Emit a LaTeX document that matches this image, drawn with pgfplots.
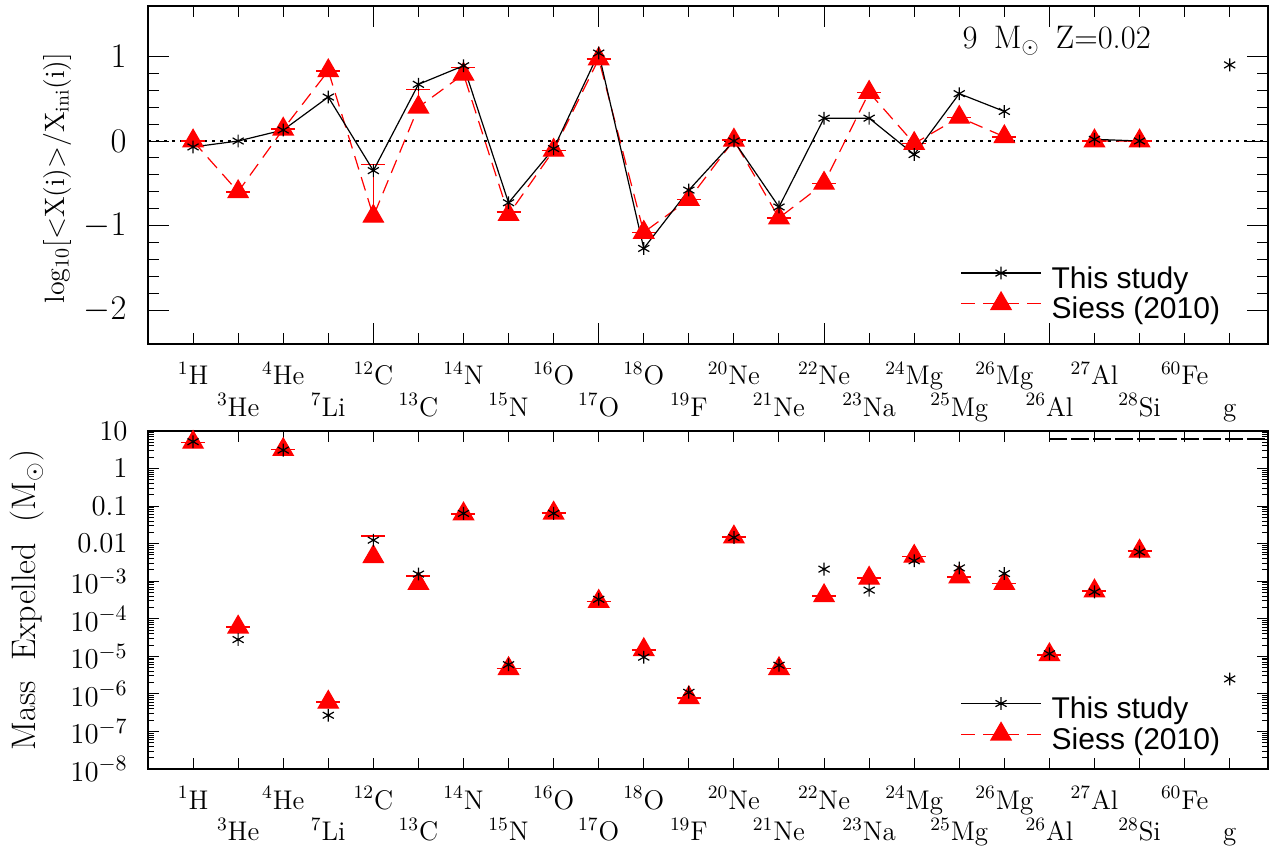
\documentclass[border=0pt]{standalone}
\usepackage{pgfplots}
\pgfplotsset{compat=1.18}
\usepackage{pgfplotstable}
\usepackage{fontspec}
\newfontfamily\legfont{Liberation Sans}

\newcommand\iso[2]{\textsuperscript{#1}#2}
\newcommand\lo[1]{\raisebox{-15.75pt}{#1}}

\pgfplotstableread{
x  ts     si     e
1  -0.07  0.00   0
2   0.00 -0.60   0
3   0.13  0.14   0
4   0.52  0.83   0
5  -0.35 -0.89   0.61
6   0.67  0.40   0.21
7   0.89  0.79   0.08
8  -0.73 -0.87   0.03
9  -0.09 -0.11   0
10  1.04  0.97   0
11 -1.27 -1.08   0
12 -0.58 -0.69   0
13  0.00  0.01   0
14 -0.78 -0.91   0
15  0.27 -0.50   0
16  0.27  0.575  0
17 -0.16 -0.03   0
18  0.56  0.28   0
19  0.35  0.05   0
20  nan   nan    0
21  0.02  0.00   0
22  0.00  0.00   0
23  nan   nan    0
24  0.90  nan    0
}\topdata

\pgfplotstableread{
x  ts       si       e
1  5.2      5.0      0
2  2.8e-5   6.0e-5   0
3  3.1      3.2      0
4  2.7e-7   6.0e-7   0
5  0.0124   4.5e-3   0.0113
6  1.55e-3  8.7e-4   5.3e-4
7  0.064    0.062    0
8  6.0e-6   4.7e-6   0
9  0.064    0.065    0
10 3.3e-4   2.9e-4   0
11 9.5e-6   1.5e-5   0
12 1.1e-6   7.9e-7   0
13 0.0146   0.015    0
14 5.8e-6   4.7e-6   0
15 2.1e-3   4.1e-4   0
16 5.8e-4   1.2e-3   0
17 3.5e-3   4.6e-3   0
18 2.26e-3  1.3e-3   0
19 1.6e-3   8.7e-4   0
20 1.17e-5  1.1e-5   0
21 5.2e-4   5.5e-4   0
22 6.0e-3   6.3e-3   0
23 nan      nan      0
24 2.5e-6   nan      0
}\botdata

\pgfplotstableread{
x    y
20   6.1
24.85 6.1
}\gline

\pgfplotstableread{
x    y
0    0
24.85 0
}\zeroline

\pgfplotsset{
  common/.style={
    scale only axis, width=560pt,
    xmin=0, xmax=24.85,
    axis line style={line width=0.9pt},
    every tick/.style={black, line width=0.5pt},
    tick align=inside, tick pos=both,
    unbounded coords=jump,
    reverse legend,
    legend cell align=left,
    legend image code/.code={\draw[##1, sharp plot, mark repeat=2, mark phase=2] plot coordinates {(0pt,3pt) (20pt,3pt) (40pt,3pt)};},
  },
  tsstyle/.style={black, line width=0.6pt, mark=asterisk, mark size=3.2pt, mark options={solid, line width=0.6pt}},
  sistyle/.style={red, line width=0.6pt, dash pattern=on 7pt off 4pt, mark=triangle*, mark size=5.8pt,
     mark options={solid, fill=red, draw=red},
     error bars/y dir=plus, error bars/y explicit,
     error bars/error bar style={solid, red, line width=0.6pt},
     error bars/error mark options={rotate=90, red, mark size=6pt, line width=0.8pt}},
  legsty/.style={legend style={at={(axis description cs:0.7254,#1)}, anchor=south west, draw=none, fill=none,
     inner sep=0pt, outer sep=0pt, row sep=0pt, column sep=5pt,
     nodes={inner sep=0pt, text height=11pt, text depth=2pt, font=\legfont\fontsize{15}{15}\selectfont}}},
}

\begin{document}
\begin{tikzpicture}
\path[use as bounding box] (0,0) rectangle (634.5pt,425.5pt);

% ---------------- top panel ----------------
\begin{axis}[common,
  at={(74pt,253.5pt)}, anchor=south west,
  height=169.15pt,
  ymin=-2.4, ymax=1.6,
  xtick={5,10,15,20}, xticklabels={},
  minor xtick={1,...,24},
  extra x ticks={1,...,24},
  extra x tick labels={\iso{1}{H}, \lo{\iso{3}{He}}, \iso{4}{He}, \lo{\iso{7}{Li}}, \iso{12}{C}, \lo{\iso{13}{C}}, \iso{14}{N}, \lo{\iso{15}{N}}, \iso{16}{O}, \lo{\iso{17}{O}}, \iso{18}{O}, \lo{\iso{19}{F}}, \iso{20}{Ne}, \lo{\iso{21}{Ne}}, \iso{22}{Ne}, \lo{\iso{23}{Na}}, \iso{24}{Mg}, \lo{\iso{25}{Mg}}, \iso{26}{Mg}, \lo{\iso{26}{Al}}, \iso{27}{Al}, \lo{\iso{28}{Si}}, \iso{60}{Fe}, \lo{g}},
  extra x tick style={major tick length=0pt,
     xticklabel style={anchor=base, yshift=-20.3pt, inner sep=0pt, font=\fontsize{13.5}{16}\selectfont}},
  ytick={-2,-1,0,1}, minor y tick num=4,
  yticklabels={$-2$,$-1$,$0$,$1$},
  yticklabel style={font=\fontsize{16}{18}\selectfont, anchor=east, inner sep=0pt, xshift=-10.5pt},
  major tick length=10.5pt, minor tick length=5.5pt,
  ylabel={log$_{10}$[$<$X(i)$>$/X$_{\rm ini}$(i)]},
  ylabel style={at={(axis description cs:-0.081,0.49)}, anchor=center, font=\fontsize{14}{16}\selectfont},
  legsty=0.063,
]
\addplot[forget plot, black, line width=0.6pt, dash pattern=on 1.5pt off 2.5pt] table[x=x,y=y] {\zeroline};
\addplot[sistyle] table[x=x, y=si, y error=e] {\topdata};
\addlegendentry{Siess (2010)}
\addplot[tsstyle] table[x=x, y=ts] {\topdata};
\addlegendentry{This study}
\node[anchor=base west, inner sep=0pt, font=\fontsize{16.3}{18}\selectfont] at (rel axis cs:0.727,0.873)
  {9\hspace{0.5em}M$_\odot$\hspace{0.5em}Z=0.02};
\end{axis}

% ---------------- bottom panel ----------------
\begin{axis}[common,
  at={(74pt,41pt)}, anchor=south west,
  height=169pt,
  ymode=log, ymin=1e-8, ymax=10,
  xtick={1,...,24},
  xticklabels={\iso{1}{H}, \lo{\iso{3}{He}}, \iso{4}{He}, \lo{\iso{7}{Li}}, \iso{12}{C}, \lo{\iso{13}{C}}, \iso{14}{N}, \lo{\iso{15}{N}}, \iso{16}{O}, \lo{\iso{17}{O}}, \iso{18}{O}, \lo{\iso{19}{F}}, \iso{20}{Ne}, \lo{\iso{21}{Ne}}, \iso{22}{Ne}, \lo{\iso{23}{Na}}, \iso{24}{Mg}, \lo{\iso{25}{Mg}}, \iso{26}{Mg}, \lo{\iso{26}{Al}}, \iso{27}{Al}, \lo{\iso{28}{Si}}, \iso{60}{Fe}, \lo{g}},
  xticklabel style={anchor=base, yshift=-20pt, inner sep=0pt, font=\fontsize{13.5}{16}\selectfont},
  ytickten={-8,-7,-6,-5,-4,-3,-2,-1,0,1},
  yticklabels={$10^{-8}$,$10^{-7}$,$10^{-6}$,$10^{-5}$,$10^{-4}$,$10^{-3}$,$0.01$,$0.1$,$1$,$10$},
  yticklabel style={font=\fontsize{15.5}{18}\selectfont, anchor=east, inner sep=0pt, xshift=-10pt},
  major tick length=5.5pt, minor tick length=3pt,
  ylabel={Mass\ \ Expelled\ \ (M$_\odot$)},
  ylabel style={at={(axis description cs:-0.1077,0.5)}, anchor=center, font=\fontsize{17}{19}\selectfont},
  legsty=0.047,
]
\addplot[forget plot, black, line width=0.9pt, dash pattern=on 9pt off 2pt] table[x=x,y=y] {\gline};
\addplot[only marks, sistyle] table[x=x, y=si, y error=e] {\botdata};
\addlegendentry{Siess (2010)}
\addplot[only marks, tsstyle] table[x=x, y=ts] {\botdata};
\addlegendentry{This study}
\end{axis}
\end{tikzpicture}
\end{document}
